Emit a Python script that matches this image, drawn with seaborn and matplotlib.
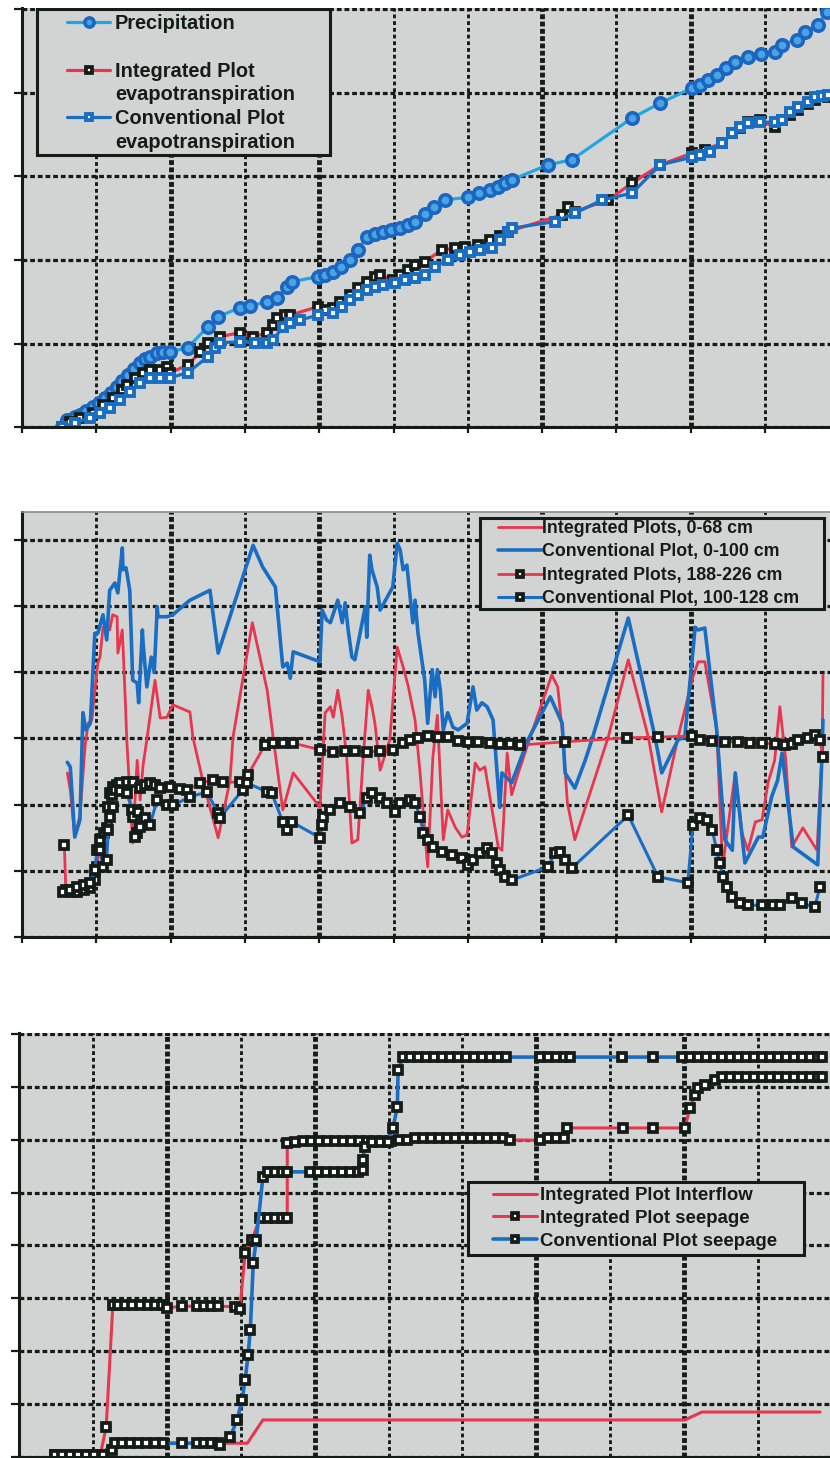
import numpy as np
import matplotlib
matplotlib.use("Agg")
import matplotlib.pyplot as plt
import seaborn as sns
from matplotlib.lines import Line2D
from matplotlib.patches import Rectangle

# ---------------- data (x: months from start, y: grid units) ----------------
# Panel 1 : cumulative precipitation / evapotranspiration
precip = [(0.54,0.00),(0.61,0.08),(0.71,0.12),(0.78,0.14),(0.86,0.19),(0.96,0.24),(1.04,0.29),(1.12,0.35),
          (1.20,0.41),(1.28,0.48),(1.35,0.55),(1.43,0.62),(1.51,0.69),(1.59,0.77),(1.66,0.81),(1.72,0.84),
          (1.82,0.89),(1.90,0.90),(1.99,0.90),(2.23,0.95),(2.50,1.20),(2.64,1.32),(2.93,1.43),(3.07,1.45),
          (3.30,1.50),(3.43,1.55),(3.57,1.68),(3.63,1.74),(3.98,1.80),(4.08,1.82),(4.19,1.86),(4.30,1.92),
          (4.41,2.00),(4.52,2.12),(4.64,2.28),(4.75,2.31),(4.86,2.34),(4.97,2.36),(5.09,2.38),(5.19,2.42),
          (5.29,2.46),(5.42,2.55),(5.55,2.64),(5.69,2.72),(6.00,2.75),(6.15,2.80),(6.30,2.84),(6.41,2.87),
          (6.50,2.92),(6.59,2.96),(7.08,3.14),(7.40,3.20),(8.21,3.70),(8.59,3.88),(9.02,4.06),(9.13,4.10),
          (9.23,4.16),(9.35,4.22),(9.47,4.30),(9.60,4.37),(9.77,4.43),(9.95,4.47),(10.13,4.49),(10.23,4.58),
          (10.43,4.64),(10.54,4.73),(10.71,4.81),(10.83,4.97)]
et_integrated = [(0.54,0.00),(0.65,0.06),(0.78,0.11),(0.96,0.17),(1.09,0.26),(1.22,0.35),(1.35,0.44),(1.41,0.50),
                 (1.52,0.59),(1.63,0.65),(1.72,0.68),(1.86,0.68),(1.95,0.72),(1.99,0.65),(2.23,0.74),(2.40,0.90),
                 (2.50,1.01),(2.66,1.08),(2.93,1.13),(3.11,1.08),(3.30,1.13),(3.38,1.22),(3.43,1.31),(3.54,1.34),
                 (3.61,1.34),(3.98,1.44),(4.08,1.40),(4.19,1.43),(4.28,1.50),(4.41,1.58),(4.52,1.66),(4.64,1.74),
                 (4.75,1.80),(4.82,1.82),(4.99,1.76),(5.09,1.82),(5.20,1.88),(5.29,1.94),(5.42,1.98),(5.65,2.12),
                 (5.83,2.14),(5.96,2.16),(6.14,2.18),(6.30,2.24),(6.43,2.29),(6.54,2.34),(7.27,2.54),(7.35,2.63),
                 (7.44,2.58),(7.89,2.72),(8.21,2.92),(8.59,3.14),(9.02,3.28),(9.19,3.32),(9.42,3.40),(9.56,3.52),
                 (9.66,3.58),(9.77,3.65),(9.93,3.68),(10.13,3.59),(10.23,3.68),(10.34,3.74),(10.44,3.80),
                 (10.58,3.87),(10.67,3.92),(10.85,3.95)]
et_conventional = [(0.54,0.00),(0.71,0.05),(0.92,0.11),(1.05,0.17),(1.18,0.23),(1.32,0.32),(1.45,0.42),(1.59,0.53),
                   (1.72,0.59),(1.86,0.59),(1.99,0.59),(2.23,0.65),(2.50,0.84),(2.60,0.95),(2.66,1.01),(2.93,1.02),
                   (3.14,1.01),(3.30,1.01),(3.38,1.04),(3.51,1.20),(3.61,1.25),(3.74,1.28),(3.98,1.34),(4.19,1.37),
                   (4.31,1.44),(4.41,1.52),(4.52,1.58),(4.64,1.64),(4.75,1.68),(4.86,1.70),(5.02,1.72),(5.15,1.76),
                   (5.29,1.78),(5.42,1.82),(5.56,1.92),(5.73,2.00),(5.90,2.06),(6.03,2.10),(6.16,2.12),(6.33,2.14),
                   (6.43,2.24),(6.54,2.34),(6.59,2.38),(7.17,2.46),(7.44,2.56),(7.81,2.72),(8.21,2.80),(8.59,3.14),
                   (9.02,3.23),(9.13,3.26),(9.26,3.29),(9.42,3.40),(9.56,3.52),(9.66,3.59),(9.77,3.64),(9.93,3.65),
                   (10.13,3.65),(10.23,3.68),(10.34,3.77),(10.44,3.83),(10.58,3.89),(10.67,3.95),(10.77,3.96),
                   (10.85,3.98)]

# Panel 2 : soil water of layers
sw_int_0_68 = [(0.61,2.48),(0.65,2.22),(0.71,1.51),(0.78,1.84),(0.85,2.90),(0.89,3.23),(0.94,3.28),(1.02,4.14),
               (1.05,4.23),(1.09,4.68),(1.18,4.64),(1.22,4.87),(1.28,4.84),(1.29,4.29),(1.35,4.64),(1.39,3.58),
               (1.41,2.98),(1.49,1.42),(1.55,2.67),(1.59,2.07),(1.63,2.60),(1.68,2.98),(1.79,3.88),(1.86,3.31),
               (1.95,3.32),(2.03,3.51),(2.26,3.40),(2.30,3.02),(2.44,2.33),(2.64,1.50),(2.80,2.37),(2.84,3.02),
               (3.10,4.75),(3.30,3.73),(3.38,3.02),(3.51,1.92),(3.65,2.48),(4.01,1.96),(4.08,3.39),(4.15,3.48),
               (4.19,3.32),(4.25,3.73),(4.31,3.32),(4.37,2.72),(4.44,1.42),(4.52,1.47),(4.59,2.67),(4.66,3.73),
               (4.71,3.48),(4.75,3.23),(4.82,2.52),(4.95,2.98),(5.05,4.38),(5.13,4.08),(5.20,3.78),(5.29,3.28),
               (5.36,2.45),(5.46,1.06),(5.53,2.72),(5.59,3.35),(5.67,1.47),(5.73,1.92),(5.83,1.66),(5.92,1.51),
               (5.99,1.54),(6.10,2.63),(6.16,2.52),(6.23,2.57),(6.41,1.36),(6.46,1.31),(6.53,2.78),(6.59,2.15),
               (6.68,2.48),(6.84,3.02),(7.13,3.96),(7.21,3.78),(7.28,3.02),(7.34,2.03),(7.44,1.47),(7.89,3.02),
               (8.16,4.19),(8.43,3.02),(8.61,1.89),(8.83,3.02),(9.03,3.93),(9.10,4.16),(9.19,4.16),(9.35,3.13),
               (9.43,1.06),(9.50,1.66),(9.60,2.48),(9.69,1.57),(9.77,1.31),(9.87,1.74),(9.96,1.77),(10.04,2.33),
               (10.13,2.67),(10.20,3.48),(10.28,2.67),(10.36,1.36),(10.51,1.65),(10.70,1.31),(10.77,2.83),
               (10.78,3.96)]
sw_conv_0_100 = [(0.61,2.64),(0.65,2.57),(0.71,1.51),(0.78,1.77),(0.82,3.39),(0.86,3.13),(0.92,3.23),(0.98,4.59),
                 (1.02,4.59),(1.09,4.87),(1.14,4.49),(1.18,5.24),(1.25,5.35),(1.29,5.20),(1.35,5.88),(1.36,5.55),
                 (1.40,5.58),(1.45,5.24),(1.49,3.88),(1.55,3.84),(1.57,3.54),(1.62,4.64),(1.63,4.44),(1.68,3.78),
                 (1.74,4.23),(1.78,4.00),(1.82,4.99),(1.83,4.84),(1.95,4.84),(2.03,4.87),(2.26,5.09),(2.53,5.24),
                 (2.64,4.29),(3.11,5.92),(3.24,5.59),(3.41,5.29),(3.51,4.08),(3.57,4.14),(3.61,3.91),(3.65,4.31),
                 (4.01,4.16),(4.04,4.94),(4.10,4.79),(4.15,4.75),(4.25,5.09),(4.31,4.75),(4.35,5.05),(4.39,4.64),
                 (4.44,4.23),(4.48,4.19),(4.55,4.59),(4.62,4.99),(4.64,4.53),(4.68,5.77),(4.71,5.55),(4.78,5.29),
                 (4.82,4.94),(4.99,5.29),(5.05,5.95),(5.09,5.85),(5.13,5.55),(5.18,5.62),(5.26,4.75),(5.29,5.09),
                 (5.33,4.59),(5.42,3.88),(5.46,3.23),(5.52,4.04),(5.56,3.63),(5.59,4.04),(5.63,3.73),(5.67,3.13),
                 (5.73,3.39),(5.80,3.17),(5.87,3.13),(5.99,3.23),(6.07,3.78),(6.12,3.43),(6.19,3.54),(6.26,3.48),
                 (6.34,3.28),(6.43,1.96),(6.46,2.48),(6.59,2.33),(6.81,2.98),(7.11,3.63),(7.27,3.23),(7.31,2.48),
                 (7.44,2.25),(7.58,2.67),(7.67,2.98),(8.16,4.82),(8.52,3.02),(8.61,2.48),(8.83,2.98),(8.92,3.02),
                 (9.06,4.68),(9.10,4.64),(9.19,4.67),(9.35,3.13),(9.46,1.47),(9.56,1.31),(9.60,2.48),(9.73,1.12),
                 (9.91,1.51),(9.97,1.51),(10.09,2.12),(10.17,2.37),(10.23,2.78),(10.38,1.36),(10.71,1.09),
                 (10.77,2.83),(10.78,3.28)]
sw_int_188_226 = [(0.57,1.39),(0.59,0.71),(0.67,0.68),(0.74,0.68),(0.83,0.71),(0.92,0.74),(0.98,0.86),(1.01,1.06),
                  (1.05,1.47),(1.10,1.57),(1.14,1.65),(1.16,1.96),(1.18,2.18),(1.22,2.27),(1.28,2.30),(1.32,2.33),
                  (1.41,2.34),(1.49,2.34),(1.59,2.25),(1.66,2.30),(1.72,2.33),(1.79,2.30),(1.86,2.25),(1.99,2.27),
                  (2.13,2.24),(2.22,2.22),(2.40,2.33),(2.57,2.37),(2.71,2.34),(2.93,2.34),(3.04,2.45),(3.27,2.90),
                  (3.38,2.93),(3.51,2.93),(3.65,2.93),(4.01,2.83),(4.19,2.80),(4.35,2.81),(4.48,2.81),(4.64,2.80),
                  (4.82,2.81),(4.99,2.83),(5.13,2.93),(5.22,2.98),(5.33,3.01),(5.46,3.04),(5.60,3.02),(5.73,3.02),
                  (5.87,2.96),(6.00,2.95),(6.14,2.95),(6.30,2.93),(6.43,2.92),(6.57,2.92),(6.70,2.90),(7.31,2.95),
                  (8.14,3.01),(8.56,3.02),(9.02,3.04),(9.13,2.98),(9.29,2.96),(9.46,2.95),(9.64,2.95),(9.80,2.93),
                  (9.96,2.93),(10.13,2.92),(10.27,2.90),(10.36,2.92),(10.44,2.98),(10.58,3.01),(10.67,3.05),
                  (10.74,2.98),(10.78,2.72)]
sw_conv_100_128 = [(0.55,0.68),(0.65,0.71),(0.74,0.76),(0.83,0.79),(0.92,0.82),(0.98,1.01),(1.01,1.31),(1.05,1.31),
                   (1.09,1.06),(1.14,1.16),(1.16,1.62),(1.18,1.81),(1.22,1.96),(1.21,2.15),(1.25,2.22),(1.32,2.21),
                   (1.41,2.18),(1.48,1.92),(1.49,1.81),(1.55,1.57),(1.52,1.51),(1.59,1.66),(1.56,1.89),(1.66,1.80),
                   (1.72,1.69),(1.82,2.07),(1.95,1.99),(2.03,1.99),(2.26,2.12),(2.49,2.19),(2.64,1.87),(2.66,1.80),
                   (2.97,2.22),(3.03,2.33),(3.30,2.19),(3.36,2.18),(3.51,1.74),(3.57,1.62),(3.63,1.74),(4.01,1.50),
                   (4.04,1.69),(4.05,1.81),(4.15,1.92),(4.28,2.03),(4.41,1.96),(4.55,1.87),(4.64,2.10),(4.71,2.18),
                   (4.82,2.10),(4.91,2.03),(5.02,1.89),(5.09,2.03),(5.22,2.07),(5.29,2.03),(5.36,1.81),(5.40,1.57),
                   (5.46,1.47),(5.53,1.36),(5.65,1.28),(5.79,1.24),(5.92,1.19),(6.00,1.09),(6.07,1.16),(6.16,1.27),
                   (6.26,1.35),(6.33,1.27),(6.39,1.12),(6.43,1.01),(6.50,0.91),(6.59,0.86),(7.08,1.06),(7.17,1.27),
                   (7.24,1.28),(7.31,1.16),(7.40,1.04),(8.16,1.84),(8.56,0.91),(8.96,0.82),(9.03,1.69),(9.13,1.80),
                   (9.22,1.77),(9.29,1.62),(9.35,1.31),(9.39,1.12),(9.43,0.91),(9.49,0.76),(9.56,0.60),(9.66,0.51),
                   (9.77,0.48),(9.96,0.48),(10.11,0.48),(10.20,0.48),(10.36,0.59),(10.50,0.51),(10.67,0.45),
                   (10.74,0.76)]

# Panel 3 : cumulative interflow / seepage
interflow_int = [(0.49,0.00),(1.14,0.09),(1.27,0.26),(3.09,0.26),(3.30,0.70),(9.01,0.70),(9.24,0.85),(10.84,0.85)]
seepage_int = [(0.49,0.04),(0.58,0.04),(0.69,0.04),(0.80,0.04),(0.91,0.04),(1.01,0.04),(1.10,0.04),(1.18,0.57),
               (1.27,2.87),(1.34,2.87),(1.43,2.87),(1.53,2.87),(1.64,2.87),(1.75,2.87),(1.84,2.87),(1.94,2.87),
               (2.00,2.82),(2.21,2.85),(2.41,2.85),(2.50,2.85),(2.60,2.85),(2.69,2.85),(2.92,2.84),(2.99,2.80),
               (3.06,3.86),(3.15,4.10),(3.26,4.52),(3.37,4.52),(3.46,4.52),(3.56,4.52),(3.63,4.52),(3.63,5.94),
               (3.73,5.95),(3.84,5.97),(3.95,5.97),(4.06,5.97),(4.17,5.97),(4.28,5.97),(4.38,5.97),(4.49,5.97),
               (4.60,5.97),(4.71,5.97),(4.82,5.97),(4.93,5.97),(5.03,5.97),(5.14,5.99),(5.25,5.99),(5.36,6.03),
               (5.47,6.03),(5.58,6.03),(5.68,6.03),(5.79,6.03),(5.90,6.03),(6.01,6.03),(6.12,6.03),(6.22,6.03),
               (6.33,6.03),(6.44,6.03),(6.55,6.03),(6.64,5.99),(7.05,5.99),(7.16,6.03),(7.27,6.03),(7.37,6.03),
               (7.42,6.22),(8.17,6.22),(8.58,6.22),(9.01,6.22),(9.08,6.60),(9.15,6.84),(9.19,6.98),(9.28,7.03),
               (9.42,7.13),(9.51,7.18),(9.62,7.18),(9.73,7.18),(9.84,7.18),(9.95,7.18),(10.05,7.18),(10.16,7.18),
               (10.27,7.18),(10.38,7.18),(10.49,7.18),(10.60,7.18),(10.70,7.18),(10.81,7.18),(10.87,7.18)]
seepage_conv = [(0.49,0.04),(0.58,0.04),(0.69,0.04),(0.80,0.04),(0.91,0.04),(1.01,0.04),(1.14,0.04),(1.26,0.13),
                (1.30,0.26),(1.39,0.26),(1.50,0.26),(1.61,0.26),(1.72,0.26),(1.84,0.26),(1.95,0.26),(2.21,0.26),
                (2.41,0.26),(2.50,0.26),(2.60,0.26),(2.69,0.26),(2.72,0.23),(2.86,0.38),(2.95,0.70),(3.02,1.08),
                (3.06,1.46),(3.10,1.93),(3.13,2.40),(3.17,3.67),(3.21,4.10),(3.30,5.29),(3.37,5.39),(3.46,5.39),
                (3.56,5.39),(3.63,5.39),(3.94,5.39),(4.05,5.39),(4.15,5.39),(4.26,5.39),(4.37,5.39),(4.48,5.39),
                (4.59,5.39),(4.65,5.43),(4.65,5.61),(4.68,5.86),(4.78,5.95),(4.88,5.95),(4.99,5.95),(5.06,6.22),
                (5.12,6.62),(5.13,7.32),(5.20,7.56),(5.29,7.56),(5.40,7.56),(5.51,7.56),(5.62,7.56),(5.72,7.56),
                (5.83,7.56),(5.94,7.56),(6.05,7.56),(6.16,7.56),(6.27,7.56),(6.37,7.56),(6.48,7.56),(6.59,7.56),
                (7.05,7.56),(7.16,7.56),(7.27,7.56),(7.37,7.56),(7.46,7.56),(8.16,7.56),(8.58,7.56),(8.97,7.56),
                (9.08,7.56),(9.19,7.56),(9.30,7.56),(9.40,7.56),(9.51,7.56),(9.62,7.56),(9.73,7.56),(9.84,7.56),
                (9.95,7.56),(10.05,7.56),(10.16,7.56),(10.27,7.56),(10.38,7.56),(10.49,7.56),(10.60,7.56),
                (10.70,7.56),(10.81,7.56),(10.87,7.56)]

labels_p1 = ["Precipitation", " ", "Integrated Plot", "evapotranspiration", "Conventional Plot", "evapotranspiration"]
labels_p2 = ["Integrated Plots, 0-68 cm", "Conventional Plot, 0-100 cm",
             "Integrated Plots, 188-226 cm", "Conventional Plot, 100-128 cm"]
labels_p3 = ["Integrated Plot Interflow", "Integrated Plot seepage", "Conventional Plot seepage"]

# ---------------- style ----------------
sns.set_theme(style="white")
plt.rcParams['font.family'] = ['Liberation Sans', 'DejaVu Sans']

W, H = 830, 1458
BG = '#d2d4d4'
INK = '#141c18'
RED = '#e8364f'
BLUE = '#196ec3'
LBLUE = '#23a5e1'

fig = plt.figure(figsize=(W / 100, H / 100), dpi=100)
fig.patch.set_facecolor('white')


def fx(px):
    return px / W


def fy(py):
    return 1 - py / H


def make_axes(left_px, bottom_px, unit_x, unit_y, ymax, ngrid):
    ax = fig.add_axes([fx(left_px), fy(bottom_px), 11 * unit_x / W, ymax * unit_y / H])
    ax.set_facecolor(BG)
    ax.set_xlim(0, 11)
    ax.set_ylim(0, ymax)
    ax.set_xticks(range(0, 12))
    ax.set_yticks(range(0, ngrid + 1))
    ax.tick_params(axis='both', direction='out', color=INK, width=1.6,
                   labelleft=False, labelbottom=False, left=True, bottom=True)
    ax.tick_params(axis='y', length=6)
    ax.tick_params(axis='x', length=4.5)
    for s in ['top', 'right']:
        ax.spines[s].set_visible(False)
    for s in ['left', 'bottom']:
        ax.spines[s].set_color(INK)
        ax.spines[s].set_linewidth(2.2)
    ax.set_axisbelow(True)
    ax.grid(True, axis='y', color=INK, linestyle=(0, (1.5, 0.9)), linewidth=2.3)
    ax.grid(True, axis='x', color=INK, linestyle=(0, (1.3, 1.0)), linewidth=2.1)
    for i, gl in enumerate(ax.xaxis.get_gridlines()):
        if i in (2, 4, 7, 9):
            gl.set_linewidth(3.5)
            gl.set_linestyle((0, (1.0, 0.5)))
    return ax


def draw(ax, pts, color, lw, label, marker=None, **mk):
    a = np.asarray(pts, float)
    kw = dict(x=a[:, 0], y=a[:, 1], sort=False, estimator=None, color=color,
              linewidth=lw, ax=ax, legend=False, label=label)
    if marker:
        kw.update(marker=marker, **mk)
    sns.lineplot(**kw)
    return ax.get_lines()[-1]


def legend_box(ax, x0, y0, x1, y1):
    ax.add_patch(Rectangle((fx(x0), fy(y1)), (x1 - x0) / W, (y1 - y0) / H,
                           transform=fig.transFigure, facecolor=BG, edgecolor=INK,
                           linewidth=2.2, zorder=4))


sq_black = dict(markersize=5.4, markerfacecolor='white', markeredgecolor=INK, markeredgewidth=2.7)
sq_blue = dict(markersize=5.6, markerfacecolor='white', markeredgecolor=BLUE, markeredgewidth=2.8)

# ---------------- Panel 1 ----------------
ax1 = make_axes(22, 427, 74.3, 83.5, 5.02, 5)
h_p = draw(ax1, precip, LBLUE, 2.3, labels_p1[0], marker='o', markersize=8.2,
           markerfacecolor='#4aa3e3', markeredgecolor='#1a66c0', markeredgewidth=2.6)
h_i = draw(ax1, et_integrated, RED, 2.3, labels_p1[2], marker='s', **sq_black)
h_c = draw(ax1, et_conventional, BLUE, 2.3, labels_p1[4], marker='s', **sq_blue)
ax1.set_xlim(0, 11)
ax1.set_ylim(0, 5.02)
blank = Line2D([], [], linestyle='none')
legend_box(ax1, 37, 9, 330, 155)
ax1.legend([h_p, blank, h_i, blank, h_c, blank], labels_p1, loc='upper left',
           bbox_to_anchor=(fx(67), fy(14)), bbox_transform=fig.transFigure,
           frameon=False, borderpad=0, borderaxespad=0, handlelength=2.15,
           handletextpad=0.25, labelspacing=0.24, labelcolor=INK, markerscale=0.8,
           prop=dict(family='Liberation Sans', weight='bold', size=14.4))

# ---------------- Panel 2 ----------------
ax2 = make_axes(22, 937, 74.3, 66.17, 6.42, 6)
ax2.spines['top'].set_visible(True)
ax2.spines['top'].set_color('#8a8c8c')
ax2.spines['top'].set_linewidth(1.2)
l1 = draw(ax2, sw_int_0_68, RED, 2.0, labels_p2[0])
l2 = draw(ax2, sw_conv_0_100, BLUE, 2.6, labels_p2[1])
l3 = draw(ax2, sw_int_188_226, RED, 2.0, labels_p2[2], marker='s', **sq_black)
l4 = draw(ax2, sw_conv_100_128, BLUE, 2.2, labels_p2[3], marker='s', **sq_black)
ax2.set_xlim(0, 11)
ax2.set_ylim(0, 6.42)
legend_box(ax2, 480, 518, 824, 609)
ax2.legend([l1, l2, l3, l4], labels_p2, loc='upper left',
           bbox_to_anchor=(fx(498), fy(520)), bbox_transform=fig.transFigure,
           frameon=False, borderpad=0, borderaxespad=0, handlelength=2.45,
           handletextpad=0.05, labelspacing=0.36, labelcolor=INK, markerscale=0.85,
           prop=dict(family='Liberation Sans', weight='bold', size=12.8))

# ---------------- Panel 3 ----------------
ax3 = make_axes(19, 1457, 73.9, 52.9, 8.02, 8)
m1 = draw(ax3, interflow_int, RED, 2.2, labels_p3[0])
m2 = draw(ax3, seepage_int, RED, 2.2, labels_p3[1], marker='s', **sq_black)
m3 = draw(ax3, seepage_conv, BLUE, 2.6, labels_p3[2], marker='s', **sq_black)
ax3.set_xlim(0, 11)
ax3.set_ylim(0, 8.02)
legend_box(ax3, 468, 1182, 804, 1255)
ax3.legend([m1, m2, m3], labels_p3, loc='upper left',
           bbox_to_anchor=(fx(493), fy(1187)), bbox_transform=fig.transFigure,
           frameon=False, borderpad=0, borderaxespad=0, handlelength=2.35,
           handletextpad=0.15, labelspacing=0.31, labelcolor=INK, markerscale=0.85,
           prop=dict(family='Liberation Sans', weight='bold', size=13.4))

for ax in (ax1, ax2, ax3):
    ax.set_xlabel('')
    ax.set_ylabel('')

fig.savefig('out.png', dpi=100, facecolor='white')
